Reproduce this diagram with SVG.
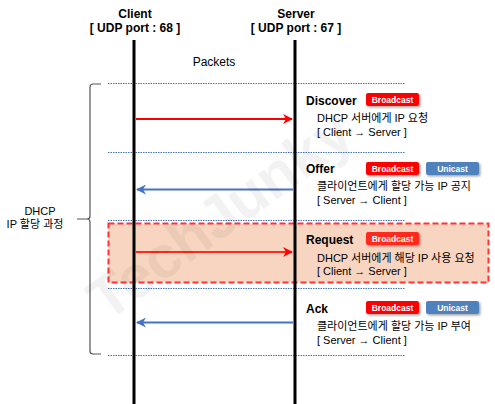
<svg xmlns="http://www.w3.org/2000/svg" width="495" height="404" viewBox="0 0 495 404">
<defs>
<style>
text{font-family:"Liberation Sans","Noto Sans CJK KR",sans-serif;fill:#000}
.hd{font-size:12px;font-weight:bold;text-anchor:middle}
.lbl{font-size:12px;font-weight:bold}
.tx{font-size:11px}
.bt{font-size:8.5px;font-weight:bold;fill:#fff;text-anchor:middle}
.dot{stroke:#4472c4;stroke-width:1;stroke-dasharray:1.5 1}
.life{stroke:#000;stroke-width:3}
.red{fill:#ff0000}
.blue{fill:#4f81bd}
</style>
<marker id="ar" viewBox="0 0 10 10" refX="9" refY="5" markerWidth="10" markerHeight="10" markerUnits="userSpaceOnUse" orient="auto">
<path d="M0,0 L10,5 L0,10 L3,5 Z" fill="#ff0000"/>
</marker>
<marker id="ab" viewBox="0 0 10 10" refX="9" refY="5" markerWidth="10" markerHeight="10" markerUnits="userSpaceOnUse" orient="auto">
<path d="M0,0 L10,5 L0,10 L3,5 Z" fill="#4472c4"/>
</marker>
<filter id="sh" x="-20%" y="-30%" width="150%" height="180%">
<feDropShadow dx="1.5" dy="1.5" stdDeviation="1" flood-color="#000" flood-opacity="0.35"/>
</filter>
</defs>
<rect width="495" height="404" fill="#fff"/>

<g id="highlight">
<rect x="108.5" y="223.5" width="380" height="59" fill="#f8d5c0" stroke="#ff3333" stroke-width="2" stroke-dasharray="6 3"/>
</g>

<g id="separators">
<line class="dot" x1="108" y1="83.5" x2="405" y2="83.5"/>
<line class="dot" x1="108" y1="152.5" x2="405" y2="152.5"/>
<line class="dot" x1="108" y1="220.5" x2="405" y2="220.5"/>
<line class="dot" x1="108" y1="288.5" x2="405" y2="288.5"/>
<line class="dot" x1="108" y1="355.5" x2="405" y2="355.5"/>
</g>

<g id="client">
<text class="hd" x="135" y="18">Client</text>
<text class="hd" x="135" y="32">[ UDP port : 68 ]</text>
<line class="life" x1="134" y1="40" x2="134" y2="404"/>
</g>
<g id="server">
<text class="hd" x="296" y="18">Server</text>
<text class="hd" x="296" y="32">[ UDP port : 67 ]</text>
<line class="life" x1="295" y1="40" x2="295" y2="404"/>
</g>
<text x="214" y="66" font-size="12" text-anchor="middle">Packets</text>

<g id="connectors">
<line x1="136" y1="119" x2="292" y2="119" stroke="#ff0000" stroke-width="2" marker-end="url(#ar)"/>
<line x1="293" y1="189.5" x2="137" y2="189.5" stroke="#4472c4" stroke-width="2" marker-end="url(#ab)"/>
<line x1="136" y1="252" x2="292" y2="252" stroke="#ff2a1a" stroke-width="2" marker-end="url(#ar)"/>
<line x1="293" y1="322.5" x2="137" y2="322.5" stroke="#4472c4" stroke-width="2" marker-end="url(#ab)"/>
</g>

<g id="discover">
<text class="lbl" x="306" y="105">Discover</text>
<rect class="red" x="366" y="93" width="53" height="13" rx="2" filter="url(#sh)"/>
<text class="bt" x="392.5" y="102.5">Broadcast</text>
<text class="tx" x="317" y="122">DHCP 서버에게 IP 요청</text>
<text class="tx" x="317" y="136">[ Client → Server ]</text>
</g>

<g id="offer">
<text class="lbl" x="306" y="173">Offer</text>
<rect class="red" x="366" y="162" width="53" height="13" rx="2" filter="url(#sh)"/>
<text class="bt" x="392.5" y="171.5">Broadcast</text>
<rect class="blue" x="426" y="162" width="53" height="13" rx="2" filter="url(#sh)"/>
<text class="bt" x="452.5" y="171.5">Unicast</text>
<text class="tx" x="317" y="190">클라이언트에게 할당 가능 IP 공지</text>
<text class="tx" x="317" y="204">[ Server → Client ]</text>
</g>

<g id="request">
<text class="lbl" x="306" y="244" fill="#3a2a20">Request</text>
<rect x="366" y="232" width="53" height="13" rx="2" fill="#ff2a1a" filter="url(#sh)"/>
<text class="bt" x="392.5" y="241.5">Broadcast</text>
<text class="tx" x="317" y="262">DHCP 서버에게 해당 IP 사용 요청</text>
<text class="tx" x="317" y="275">[ Client → Server ]</text>
</g>

<g id="ack">
<text class="lbl" x="306" y="313">Ack</text>
<rect class="red" x="366" y="301" width="53" height="13" rx="2" filter="url(#sh)"/>
<text class="bt" x="392.5" y="310.5">Broadcast</text>
<rect class="blue" x="426" y="301" width="53" height="13" rx="2" filter="url(#sh)"/>
<text class="bt" x="452.5" y="310.5">Unicast</text>
<text class="tx" x="317" y="330">클라이언트에게 할당 가능 IP 부여</text>
<text class="tx" x="317" y="344">[ Server → Client ]</text>
</g>

<g id="brace">
<path d="M101,84 L93,84 Q90,84 90,87 L90,216 Q90,219 87,219 L77,219 L87,219 Q90,219 90,222 L90,351 Q90,354 93,354 L101,354" fill="none" stroke="#555" stroke-width="1.2"/>
<text x="40" y="215" font-size="11" text-anchor="middle">DHCP</text>
<text x="35" y="228" font-size="11" text-anchor="middle">IP 할당 과정</text>
</g>

<text x="0" y="0" font-size="60" font-weight="bold" fill="#000" fill-opacity="0.05" text-anchor="middle" transform="translate(232,232) rotate(-36)">TechJunky</text>
</svg>
